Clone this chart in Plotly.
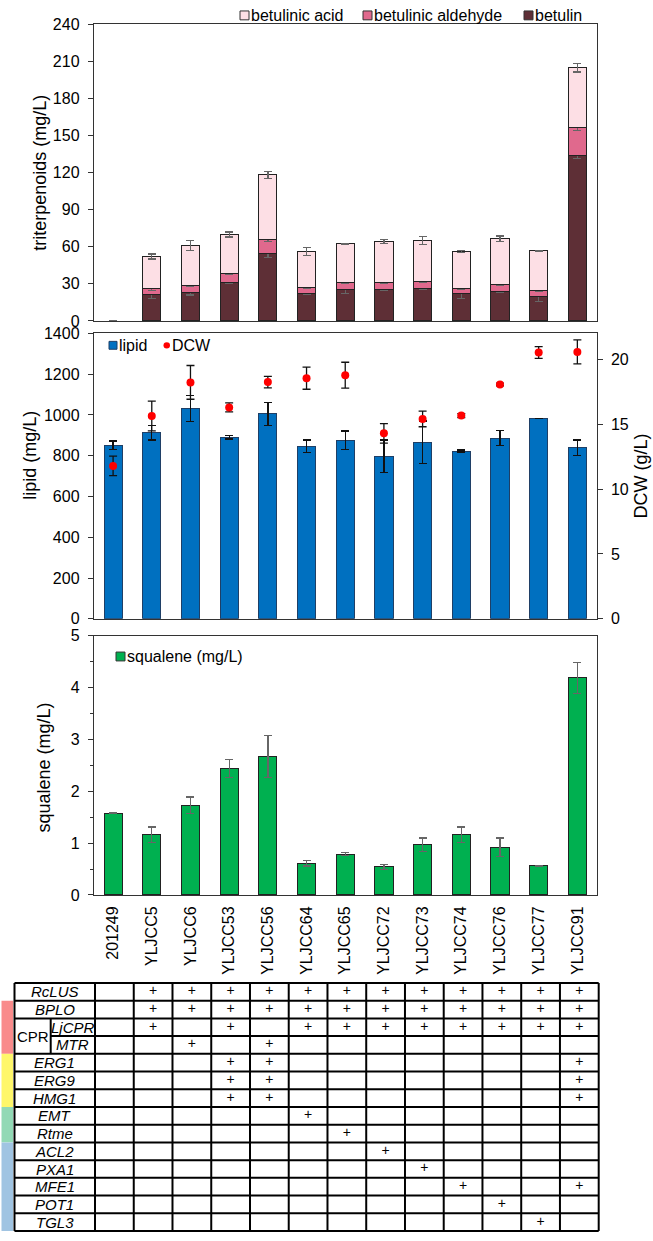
import plotly.graph_objects as go

W, H = 653, 1241
FONT = "Liberation Sans"

# ---------------- data ----------------
categories = ["201249", "YLJCC5", "YLJCC6", "YLJCC53", "YLJCC56", "YLJCC64", "YLJCC65",
              "YLJCC72", "YLJCC73", "YLJCC74", "YLJCC76", "YLJCC77", "YLJCC91"]

betulin = [0, 21.0, 22.9, 31.4, 54.8, 22.3, 25.8, 25.8, 26.3, 21.8, 24.2, 19.9, 133.7]
betulin_err = [0, 3.0, 2.0, 1.0, 3.3, 1.0, 3.7, 1.0, 0.5, 3.6, 1.0, 4.0, 2.3]
betulinic_aldehyde = [0, 5.3, 6.1, 6.9, 11.1, 4.8, 5.3, 5.3, 5.6, 4.5, 5.0, 4.6, 22.3]
betulinic_aldehyde_err = [0, 1.5, 1.0, 1.0, 1.5, 0.5, 0.5, 0.5, 0.5, 0.5, 0.5, 0.5, 2.0]
betulinic_acid = [0, 25.8, 32.1, 31.6, 52.1, 29.2, 31.4, 33.0, 33.0, 29.8, 37.2, 32.1, 48.7]
betulinic_acid_err = [0, 2.0, 4.2, 2.0, 3.0, 3.3, 0.3, 1.5, 3.3, 0.7, 2.2, 0.4, 3.5]

lipid = [852, 913, 1032, 890, 1005, 847, 876, 797, 866, 823, 887, 984, 840]
lipid_err = [20, 35, 65, 8, 55, 30, 45, 80, 105, 5, 38, 0, 37]
dcw = [11.79, 15.64, 18.23, 16.3, 18.25, 18.55, 18.78, 14.3, 15.41, 15.67, 18.07, 20.53, 20.58]
dcw_err = [0.75, 1.15, 1.3, 0.35, 0.45, 0.85, 1.0, 0.75, 0.6, 0.15, 0.1, 0.45, 0.93]

squalene = [1.58, 1.16, 1.73, 2.44, 2.67, 0.61, 0.79, 0.54, 0.97, 1.16, 0.92, 0.56, 4.19]
squalene_err = [0, 0.15, 0.16, 0.17, 0.4, 0.05, 0.03, 0.05, 0.13, 0.15, 0.18, 0.01, 0.3]

top_ticks = [0, 30, 60, 90, 120, 150, 180, 210, 240]
lipid_ticks = [0, 200, 400, 600, 800, 1000, 1200, 1400]
dcw_ticks = [0, 5, 10, 15, 20]
squalene_ticks = [0, 1, 2, 3, 4, 5]

genes = ["RcLUS", "BPLO", "LjCPR", "MTR", "ERG1", "ERG9", "HMG1", "EMT", "Rtme",
         "ACL2", "PXA1", "MFE1", "POT1", "TGL3"]
all_mod = categories[1:]
modifications = {
    "RcLUS": all_mod,
    "BPLO": all_mod,
    "LjCPR": ["YLJCC5", "YLJCC53", "YLJCC64", "YLJCC65", "YLJCC72", "YLJCC73",
              "YLJCC74", "YLJCC76", "YLJCC77", "YLJCC91"],
    "MTR": ["YLJCC6", "YLJCC56"],
    "ERG1": ["YLJCC53", "YLJCC56", "YLJCC91"],
    "ERG9": ["YLJCC53", "YLJCC56", "YLJCC91"],
    "HMG1": ["YLJCC53", "YLJCC56", "YLJCC91"],
    "EMT": ["YLJCC64"],
    "Rtme": ["YLJCC65"],
    "ACL2": ["YLJCC72"],
    "PXA1": ["YLJCC73"],
    "MFE1": ["YLJCC74", "YLJCC91"],
    "POT1": ["YLJCC76"],
    "TGL3": ["YLJCC77"],
}
# colour groups of rows (first row, last row, colour)
groups = [("BPLO", "MTR", "#F98B8B"), ("ERG1", "HMG1", "#FFF76A"),
          ("EMT", "Rtme", "#92D9B5"), ("ACL2", "TGL3", "#A0C4E2")]

# ---------------- styling ----------------
C_BET = "#5E2F36"
C_ALD = "#E0698D"
C_ACID = "#FDDFE5"
C_LIPID = "#0070C0"
C_DCW = "#FF0000"
C_SQ = "#00B050"
AX = "#333333"


def pxx(p):
    return p / W


def pxy(p):
    return 1 - p / H


XDOM = [pxx(93.75), pxx(596.7)]
TOP = [pxy(317.3), pxy(16.3)]
MID = [pxy(619.3), pxy(330)]
BOT = [pxy(899.3), pxy(636.5)]

fig = go.Figure()

BW = 0.47
err_gray = dict(type="data", visible=True, color="#666666", thickness=1.3, width=4)


def outline(vals, w=1):
    # no outline for empty (zero) bars
    return [w if v else 0 for v in vals]


def errs(vals, e):
    return [ev if v else None for v, ev in zip(vals, e)]


fig.add_trace(go.Bar(x=categories, y=betulin, name="betulin", width=BW,
                     marker=dict(color=C_BET, line=dict(color="#222", width=outline(betulin))),
                     error_y=dict(array=errs(betulin, betulin_err), **err_gray), xaxis="x", yaxis="y"))
fig.add_trace(go.Bar(x=categories, y=betulinic_aldehyde, name="betulinic aldehyde", width=BW,
                     marker=dict(color=C_ALD, line=dict(color="#222", width=outline(betulinic_aldehyde))),
                     error_y=dict(array=errs(betulinic_aldehyde, betulinic_aldehyde_err), **err_gray),
                     xaxis="x", yaxis="y"))
fig.add_trace(go.Bar(x=categories, y=betulinic_acid, name="betulinic acid", width=BW,
                     marker=dict(color=C_ACID, line=dict(color="#222", width=outline(betulinic_acid))),
                     error_y=dict(array=errs(betulinic_acid, betulinic_acid_err), **err_gray),
                     xaxis="x", yaxis="y"))

err_black = dict(type="data", visible=True, color="#111111", thickness=1.3, width=4)
fig.add_trace(go.Bar(x=categories, y=lipid, name="lipid", width=BW,
                     marker=dict(color=C_LIPID, line=dict(color="#1F3F66", width=1)),
                     error_y=dict(array=lipid_err, **err_black), xaxis="x2", yaxis="y2"))
fig.add_trace(go.Scatter(x=categories, y=dcw, name="DCW", mode="markers",
                         marker=dict(color=C_DCW, size=8),
                         error_y=dict(array=dcw_err, **err_black), xaxis="x2", yaxis="y3"))

fig.add_trace(go.Bar(x=categories, y=squalene, name="squalene (mg/L)", width=BW,
                     marker=dict(color=C_SQ, line=dict(color="#222", width=1)),
                     error_y=dict(array=squalene_err, **err_gray), xaxis="x3", yaxis="y4"))

# ---------------- table (own axes x4 / y5) ----------------
T0, T1 = 988.5, 1240.0
ROW_H = (T1 - T0) / len(genes)
COL_L, COL_R = 95.0, 598.7
COL_W = (COL_R - COL_L) / len(categories)


def tcx(p):  # pixel -> table column units
    return (p - COL_L) / COL_W - 0.5


def tcy(p):  # pixel -> table row units
    return (p - T0) / ROW_H - 0.5


px_, py_, pt_ = [], [], []
for r, g in enumerate(genes):
    for c, cat in enumerate(categories):
        if cat in modifications[g]:
            px_.append(c)
            py_.append(r)
            pt_.append("+")
fig.add_trace(go.Scatter(x=px_, y=py_, text=pt_, mode="text", textposition="middle center",
                         textfont=dict(family=FONT, size=14, color="#000"),
                         xaxis="x4", yaxis="y5", hoverinfo="skip"))

shapes = []
annotations = []

LBL_L = tcx(14.5)
CPR_X = tcx(50.7)
STR_L, STR_R = tcx(1.5), tcx(13.0)
right = len(categories) - 0.5
nrow = len(genes)
iLj, iMTR = genes.index("LjCPR"), genes.index("MTR")

lw = 2
for k in range(nrow + 1):
    y = k - 0.5
    x0 = CPR_X if k == iMTR else LBL_L
    shapes.append(dict(type="line", xref="x4", yref="y5", x0=x0, x1=right, y0=y, y1=y,
                       line=dict(color="#000", width=lw)))
for k in range(len(categories) + 1):
    x = k - 0.5
    shapes.append(dict(type="line", xref="x4", yref="y5", x0=x, x1=x, y0=-0.5, y1=nrow - 0.5,
                       line=dict(color="#000", width=lw)))
shapes.append(dict(type="line", xref="x4", yref="y5", x0=LBL_L, x1=LBL_L, y0=-0.5, y1=nrow - 0.5,
                   line=dict(color="#000", width=lw)))
shapes.append(dict(type="line", xref="x4", yref="y5", x0=CPR_X, x1=CPR_X, y0=iLj - 0.5, y1=iMTR + 0.5,
                   line=dict(color="#000", width=lw)))
for g0, g1, col in groups:
    shapes.append(dict(type="rect", xref="x4", yref="y5", x0=STR_L, x1=STR_R,
                       y0=genes.index(g0) - 0.5, y1=genes.index(g1) + 0.5,
                       fillcolor=col, line=dict(width=0), layer="below"))

for r, g in enumerate(genes):
    if g in ("LjCPR", "MTR"):
        xc = (CPR_X + (-0.5)) / 2
    else:
        xc = (LBL_L + (-0.5)) / 2
    annotations.append(dict(x=xc, y=r, xref="x4", yref="y5", text=f"<i>{g}</i>", showarrow=False,
                            xanchor="center", yanchor="middle",
                            font=dict(family=FONT, size=15, color="#000")))
annotations.append(dict(x=(LBL_L + CPR_X) / 2, y=(iLj + iMTR) / 2, xref="x4", yref="y5", text="CPR",
                        showarrow=False, xanchor="center", yanchor="middle",
                        font=dict(family=FONT, size=15, color="#000")))

# ---------------- custom legends ----------------
def swatch(x0, yc, color, size=9, line="#333"):
    shapes.append(dict(type="rect", xref="paper", yref="paper",
                       x0=pxx(x0), x1=pxx(x0 + size), y0=pxy(yc + size / 2), y1=pxy(yc - size / 2),
                       fillcolor=color, line=dict(color=line, width=1)))


def ltext(x, yc, t):
    annotations.append(dict(x=pxx(x), y=pxy(yc), xref="paper", yref="paper", text=t, showarrow=False,
                            xanchor="left", yanchor="middle", font=dict(family=FONT, size=16, color="#000")))


swatch(240, 7.5, C_ACID); ltext(249, 7.5, "betulinic acid")
swatch(363, 7.5, C_ALD); ltext(372, 7.5, "betulinic aldehyde")
swatch(524, 7.5, C_BET); ltext(533, 7.5, "betulin")

swatch(109, 342, C_LIPID, size=8, line="#1F3F66"); ltext(117, 342, "lipid")
shapes.append(dict(type="circle", xref="paper", yref="paper", x0=pxx(163.5), x1=pxx(170),
                   y0=pxy(345.3), y1=pxy(338.8), fillcolor=C_DCW, line=dict(width=0)))
ltext(170, 342, "DCW")

swatch(116, 657.5, C_SQ); ltext(125, 657.5, "squalene (mg/L)")

# axis titles
def ytitle(x, yc, t, size=18):
    annotations.append(dict(x=pxx(x), y=pxy(yc), xref="paper", yref="paper", text=t, showarrow=False,
                            textangle=-90, xanchor="center", yanchor="middle",
                            font=dict(family=FONT, size=size, color="#000")))


ytitle(40, 167, "triterpenoids (mg/L)")
ytitle(30, 454, "lipid (mg/L)")
ytitle(641, 475, "DCW (g/L)")
ytitle(44, 770, "squalene (mg/L)")

# ---------------- layout ----------------
tickfont = dict(family=FONT, size=16, color="#000")


def xax(dom_anchor, labels=False):
    d = dict(domain=XDOM, anchor=dom_anchor, type="category", categoryorder="array",
             categoryarray=categories, range=[-0.5, len(categories) - 0.5],
             showline=True, linecolor=AX, linewidth=1, mirror=True, ticks="",
             showgrid=False, zeroline=False, showticklabels=labels, fixedrange=True)
    if labels:
        d.update(tickangle=-90, tickfont=tickfont, ticklabelstandoff=4)
    return d


def yax(dom, rng, tv, anchor, **kw):
    d = dict(domain=dom, anchor=anchor, range=rng, tickvals=tv, ticks="outside", ticklen=5,
             tickcolor=AX, showline=True, linecolor=AX, linewidth=1, mirror=True,
             showgrid=False, zeroline=False, tickfont=tickfont, ticklabelstandoff=5,
             fixedrange=True)
    d.update(kw)
    return d


fig.update_layout(
    width=W, height=H, margin=dict(l=0, r=0, t=0, b=0),
    paper_bgcolor="white", plot_bgcolor="white",
    barmode="stack", showlegend=False,
    font=dict(family=FONT, size=16, color="#000"),
    xaxis=xax("y"),
    yaxis=yax(TOP, [0, 240], top_ticks, "x"),
    xaxis2=xax("y2"),
    yaxis2=yax(MID, [0, 1400], lipid_ticks, "x2"),
    yaxis3=dict(domain=MID, anchor="x2", overlaying="y2", side="right", range=[0, 22],
                tickvals=dcw_ticks, ticks="outside", ticklen=5, tickcolor=AX,
                showline=True, linecolor=AX, linewidth=1, showgrid=False, zeroline=False,
                tickfont=tickfont, ticklabelstandoff=5, fixedrange=True),
    xaxis3=xax("y4", labels=True),
    yaxis4=yax(BOT, [0, 5], squalene_ticks, "x3",
               minor=dict(ticks="outside", ticklen=3, tickcolor=AX, dtick=0.5, tick0=0)),
    xaxis4=dict(domain=[0, 1], anchor="y5", range=[tcx(0), tcx(W)], visible=False, fixedrange=True),
    yaxis5=dict(domain=[0, pxy(984)], anchor="x4", range=[tcy(1241), tcy(984)], visible=False,
                fixedrange=True),
    shapes=shapes,
    annotations=annotations,
)

fig.write_html(
    "out.html",
    config={"displayModeBar": False, "staticPlot": True},
    post_script="document.body.style.margin='0';document.body.style.padding='0';"
                "document.documentElement.style.overflow='hidden';",
)
